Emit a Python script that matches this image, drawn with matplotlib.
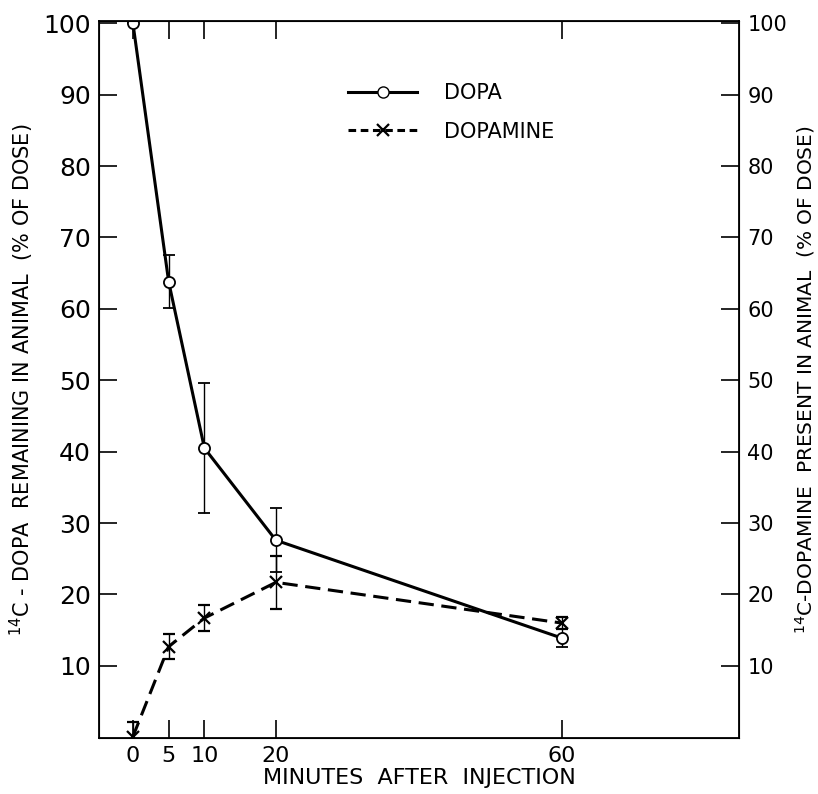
import matplotlib.pyplot as plt
from matplotlib.lines import Line2D

# data
minutes = [0, 5, 10, 20, 60]
dopa = [100, 63.8, 40.5, 27.6, 13.9]
dopa_err = [0, 3.7, 9.1, 4.5, 1.2]
dopamine = [0.1, 12.7, 16.7, 21.7, 16.0]
dopamine_err = [2.0, 1.8, 1.8, 3.7, 0.8]

x_ticks = [0, 5, 10, 20, 60]
y_ticks = [10, 20, 30, 40, 50, 60, 70, 80, 90, 100]

plt.rcParams['font.family'] = 'DejaVu Sans'

fig = plt.figure(figsize=(8.18, 7.94), dpi=100)
ax1 = fig.add_axes([0.121, 0.0705, 0.7824, 0.903])

ax1.errorbar(minutes, dopa, yerr=dopa_err, color='black', lw=2.2,
             marker='o', ms=8, mfc='white', mec='black', mew=1.3,
             ecolor='black', elinewidth=1, capsize=4, capthick=1, zorder=3)
ax1.errorbar(minutes, dopamine, yerr=dopamine_err, color='black', lw=2.2,
             linestyle=(0, (5, 2.5)), marker='x', ms=8, mew=1.6,
             ecolor='black', elinewidth=1, capsize=4, capthick=1, zorder=3)

ax1.set_xlim(-4.75, 84.8)
ax1.set_ylim(-0.1, 100.3)
ax1.set_xticks(x_ticks)
ax1.set_yticks(y_ticks)
ax1.tick_params(axis='x', direction='in', length=13, width=1.2, labelsize=16,
                pad=6, top=True)
ax1.tick_params(axis='y', direction='in', length=13, width=1.2, labelsize=18, pad=6)
for s in ax1.spines.values():
    s.set_linewidth(1.3)

ax1.set_xlabel('MINUTES  AFTER  INJECTION', fontsize=16, labelpad=1)
ax1.set_ylabel('$^{14}$C - DOPA  REMAINING IN ANIMAL  (% OF DOSE)', fontsize=15, labelpad=5)

# right-hand axis, same scale
ax2 = ax1.twinx()
ax2.set_ylim(ax1.get_ylim())
ax2.set_yticks(y_ticks)
ax2.tick_params(axis='y', direction='in', length=13, width=1.2, labelsize=15, pad=6)
ax2.set_ylabel('$^{14}$C-DOPAMINE  PRESENT IN ANIMAL  (% OF DOSE)', fontsize=14.5,
               labelpad=4)

# legend without frame
handles = [
    Line2D([], [], color='black', lw=2.2, marker='o', ms=8, mfc='white', mec='black'),
    Line2D([], [], color='black', lw=2.2, linestyle=(0, (2.5, 1.5)), marker='x', ms=8, mew=1.6),
]
ax1.legend(handles, ['DOPA', 'DOPAMINE'], loc='upper left', bbox_to_anchor=(0.36, 0.94),
           frameon=False, fontsize=15, handlelength=3.3, handletextpad=1.3,
           labelspacing=0.9)

plt.savefig('out.png', dpi=100)
